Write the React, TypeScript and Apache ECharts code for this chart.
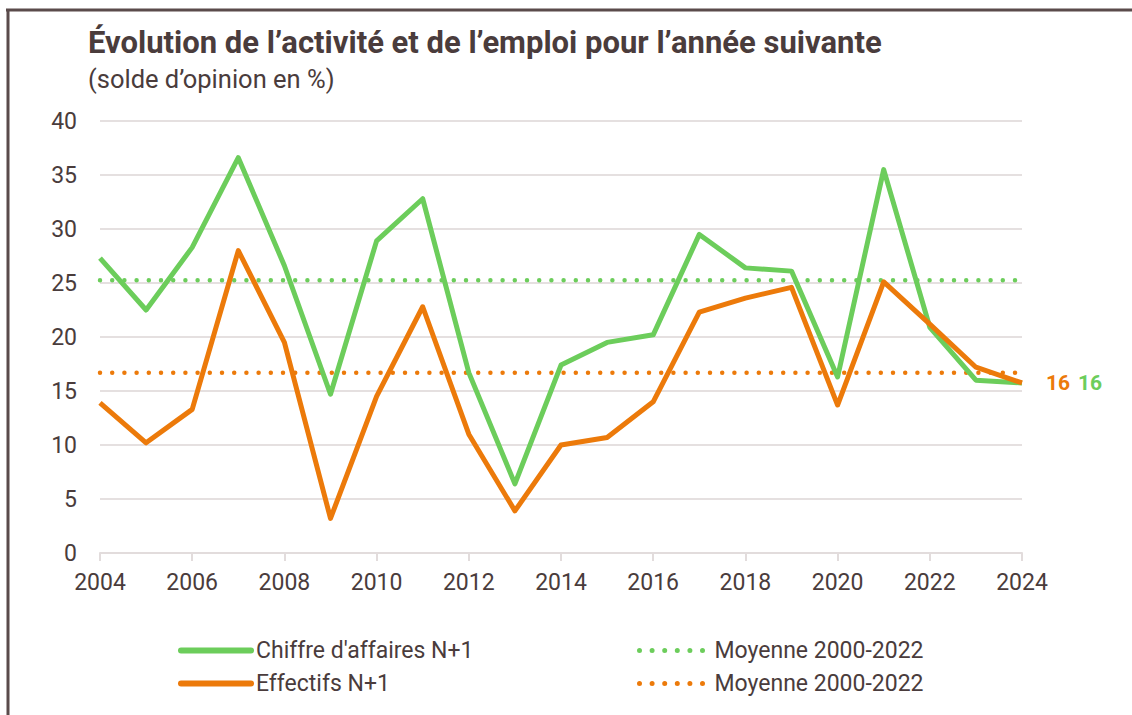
import React, { useEffect, useRef } from "react";
import * as echarts from "echarts";

const years = [2004, 2005, 2006, 2007, 2008, 2009, 2010, 2011, 2012, 2013, 2014, 2015, 2016, 2017, 2018, 2019, 2020, 2021, 2022, 2023, 2024];
const chiffreAffaires = [27.3, 22.5, 28.3, 36.6, 26.6, 14.7, 28.9, 32.8, 16.7, 6.4, 17.4, 19.5, 20.2, 29.5, 26.4, 26.1, 16.3, 35.5, 20.9, 16.0, 15.75];
const effectifs = [13.9, 10.2, 13.3, 28.0, 19.5, 3.2, 14.5, 22.8, 11.0, 3.9, 10.0, 10.7, 14.0, 22.3, 23.6, 24.6, 13.7, 25.1, 21.2, 17.2, 15.75];
const moyenneCA = 25.25;
const moyenneEff = 16.7;
const yTicks = { min: 0, max: 40, interval: 5 };
const xTicks = { min: 2004, max: 2024, interval: 2 };

const GREEN = "#6ccd5b";
const ORANGE = "#ec7a0a";
const TEXT = "#4a3c3c";
const FONT = "Roboto, 'Noto Sans', sans-serif";

export default function App() {
  const ref = useRef<HTMLDivElement>(null);
  useEffect(() => {
    if (!ref.current) return;
    const chart = echarts.init(ref.current, null, { renderer: "svg" });
    const pairs = (arr: number[]) => years.map((y, i) => [y, arr[i]]);
    const flat = (v: number) => [[years[0], v], [years[years.length - 1], v]];
    const dotted = (color: string) => ({ color, width: 4.5, type: [0, 12.2], cap: "round" as const });
    const legendBase = {
      top: 639,
      orient: "vertical",
      padding: 0,
      itemWidth: 70,
      itemHeight: 14,
      itemGap: 10,
      itemStyle: { opacity: 0 },
      textStyle: { color: TEXT, fontSize: 23, fontFamily: FONT },
    };
    chart.setOption({
      animation: false,
      textStyle: { fontFamily: FONT },
      title: {
        left: 88,
        top: 27,
        padding: 0,
        text: "Évolution de l’activité et de l’emploi pour l’année suivante",
        textStyle: { fontSize: 31, fontWeight: "bold", color: TEXT, fontFamily: FONT },
        subtext: "(solde d’opinion en %)",
        subtextStyle: { fontSize: 25.5, color: TEXT, fontFamily: FONT },
        itemGap: 8,
      },
      graphic: [
        { type: "line", shape: { x1: 6, y1: 10, x2: 1132, y2: 10 }, style: { stroke: "#5a4b4b", lineWidth: 3 } },
        { type: "line", shape: { x1: 8, y1: 9, x2: 8, y2: 715 }, style: { stroke: "#5a4b4b", lineWidth: 3 } },
      ],
      grid: { left: 100, right: 110, top: 121, bottom: 162, containLabel: false },
      xAxis: {
        type: "value",
        min: xTicks.min,
        max: xTicks.max,
        interval: xTicks.interval,
        axisLine: { show: true, lineStyle: { color: "#e2dcdc", width: 2 } },
        axisTick: { show: true, length: 8, lineStyle: { color: "#e2dcdc", width: 2 } },
        axisLabel: { color: TEXT, fontSize: 23, margin: 18, formatter: (v: number) => String(v) },
        splitLine: { show: false },
      },
      yAxis: {
        type: "value",
        min: yTicks.min,
        max: yTicks.max,
        interval: yTicks.interval,
        axisLine: { show: false },
        axisTick: { show: false },
        axisLabel: { color: TEXT, fontSize: 23, margin: 23 },
        splitLine: { lineStyle: { color: "#e5e0e0", width: 2 } },
      },
      legend: [
        {
          ...legendBase,
          left: 178,
          lineStyle: { width: 6, cap: "round" },
          data: ["Chiffre d'affaires N+1", "Effectifs N+1"],
        },
        {
          ...legendBase,
          left: 637,
          lineStyle: { width: 5, type: [0, 12.6], cap: "round" },
          formatter: () => "Moyenne 2000-2022",
          data: ["Moyenne CA", "Moyenne Effectifs"],
        },
      ],
      series: [
        {
          name: "Moyenne CA",
          type: "line",
          data: flat(moyenneCA),
          symbol: "none",
          silent: true,
          lineStyle: dotted(GREEN),
          itemStyle: { color: GREEN },
          z: 1,
        },
        {
          name: "Moyenne Effectifs",
          type: "line",
          data: flat(moyenneEff),
          symbol: "none",
          silent: true,
          lineStyle: dotted(ORANGE),
          itemStyle: { color: ORANGE },
          z: 1,
        },
        {
          name: "Chiffre d'affaires N+1",
          type: "line",
          data: pairs(chiffreAffaires),
          symbol: "none",
          lineStyle: { color: GREEN, width: 5, join: "round" },
          itemStyle: { color: GREEN },
          z: 2,
          endLabel: {
            show: true,
            distance: 56,
            formatter: (p: any) => String(Math.round(p.value[1])),
            color: GREEN,
            fontWeight: "bold",
            fontSize: 21,
            fontFamily: FONT,
          },
        },
        {
          name: "Effectifs N+1",
          type: "line",
          data: pairs(effectifs),
          symbol: "none",
          lineStyle: { color: ORANGE, width: 5, join: "round" },
          itemStyle: { color: ORANGE },
          z: 3,
          endLabel: {
            show: true,
            distance: 24,
            formatter: (p: any) => String(Math.round(p.value[1])),
            color: ORANGE,
            fontWeight: "bold",
            fontSize: 21,
            fontFamily: FONT,
          },
        },
      ],
    });
    return () => chart.dispose();
  }, []);
  return (
    <div
      ref={ref}
      style={{ position: "fixed", left: 0, top: 0, width: 1132, height: 715, background: "#fff" }}
    />
  );
}
